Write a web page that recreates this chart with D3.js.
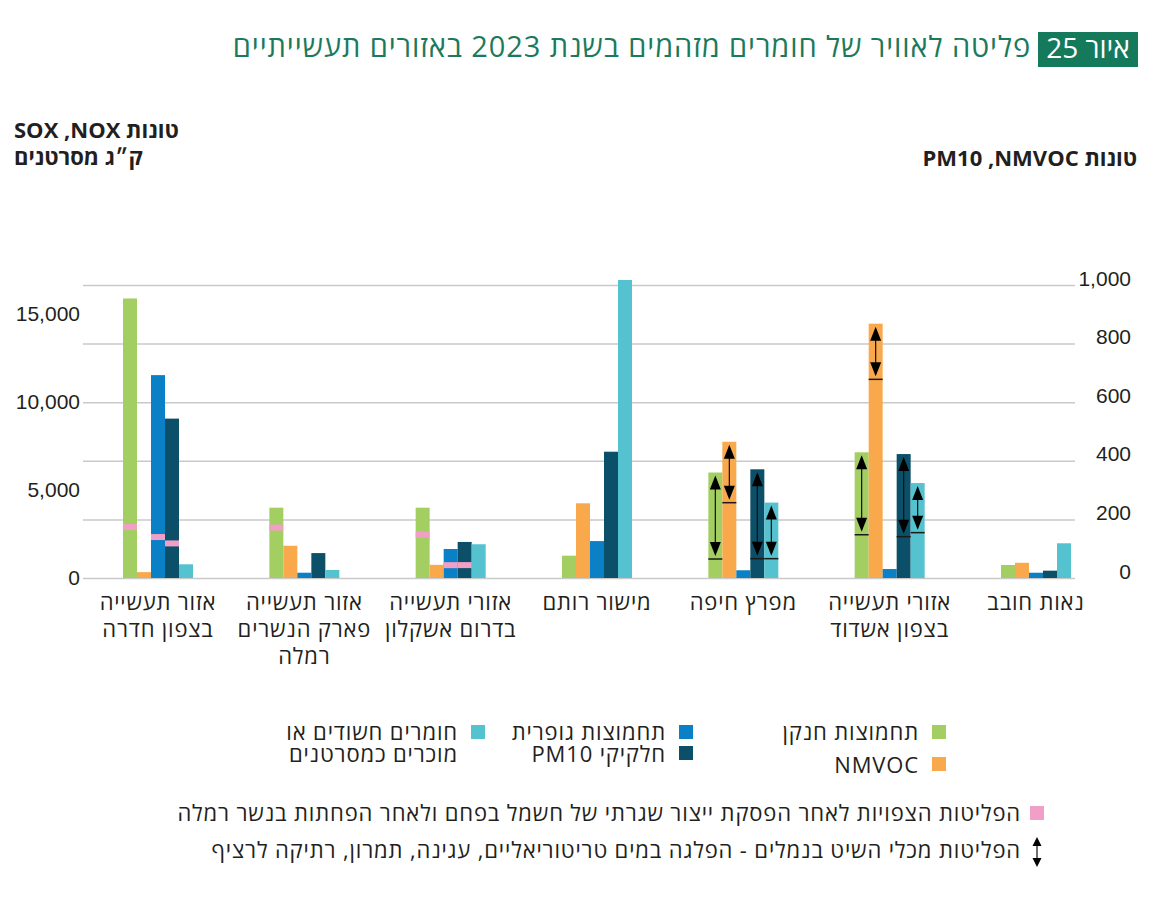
<!DOCTYPE html>
<html lang="he">
<head>
<meta charset="utf-8">
<script src="https://cdn.jsdelivr.net/npm/d3@7"></script>
<style>
body{margin:0;background:#fff;}
svg text{font-family:"Open Sans","Liberation Sans","DejaVu Sans",sans-serif;fill:#231f20;}
.rtl{direction:rtl;unicode-bidi:embed;}
</style>
</head>
<body>
<svg id="chart" width="1170" height="919"></svg>
<script>
// ---------- DATA ----------
const categories = [
  "אזור תעשייה בצפון חדרה",
  "אזור תעשייה פארק הנשרים רמלה",
  "אזורי תעשייה בדרום אשקלון",
  "מישור רותם",
  "מפרץ חיפה",
  "אזורי תעשייה בצפון אשדוד",
  "נאות חובב"
];
const categoryLines = [
  ["אזור תעשייה", "בצפון חדרה"],
  ["אזור תעשייה", "פארק הנשרים", "רמלה"],
  ["אזורי תעשייה", "בדרום אשקלון"],
  ["מישור רותם"],
  ["מפרץ חיפה"],
  ["אזורי תעשייה", "בצפון אשדוד"],
  ["נאות חובב"]
];
// tons (left axis)
const noxValues   = [15900, 4000, 4000, 1270, 6000, 7150, 740];
// tons (right axis)
const nmvocValues = [20, 110, 45, 255, 465, 868, 52];
// tons (left axis)
const soxValues   = [11540, 300, 1650, 2100, 440, 510, 300];
// tons (right axis)
const pm10Values  = [544, 85, 123, 431, 371, 423, 25];
// kg (left axis)
const carcValues  = [780, 455, 1920, 16950, 4290, 5400, 1975];

// expected emissions after stopping coal electricity / Nesher reductions (pink marks)
const noxExpected  = [2900, 2870, 2460, null, null, null, null];
const soxExpected  = [2330, null, 730, null, null, null, null];
const pm10Expected = [118, null, 44, null, null, null, null];

// lower bound, without ship emissions in ports (arrow ranges)
const noxShipLow   = [null, null, null, null, 1080, 2460, null];
const nmvocShipLow = [null, null, null, null, 257, 678, null];
const pm10ShipLow  = [null, null, null, null, 66, 141, null];
const carcShipLow  = [null, null, null, null, 1100, 2580, null];

const leftTicks  = [0, 5000, 10000, 15000];
const rightTicks = [0, 200, 400, 600, 800, 1000];

const seriesNames = ["תחמוצות חנקן", "NMVOC", "תחמוצות גופרית", "חלקיקי PM10", "חומרים חשודים או מוכרים כמסרטנים"];

// ---------- SETUP ----------
const svg = d3.select("#chart");
const colors = {nox:"#a3cf62", nmvoc:"#f9a94b", sox:"#0a80c7", pm10:"#0c4f69", carc:"#55c2cf"};
const pink = "#f19fc6";

const yR = d3.scaleLinear().domain([0, 1000]).range([578, 285]);
const yL = d3.scaleLinear().domain([0, 10000 / 0.6]).range([578, 285]);

const series = [
  {key:"nox",   values:noxValues,   scale:yL, expected:noxExpected,  low:noxShipLow},
  {key:"nmvoc", values:nmvocValues, scale:yR, expected:null,         low:nmvocShipLow},
  {key:"sox",   values:soxValues,   scale:yL, expected:soxExpected,  low:null},
  {key:"pm10",  values:pm10Values,  scale:yR, expected:pm10Expected, low:pm10ShipLow},
  {key:"carc",  values:carcValues,  scale:yL, expected:null,         low:carcShipLow}
];

const x = d3.scalePoint().domain(categories).range([158, 1036]);
const inner = d3.scaleBand().domain(series.map(s => s.key)).range([-35, 35]);
const bw = inner.bandwidth();

// ---------- TITLE ----------
svg.append("rect").attr("x", 1038).attr("y", 32).attr("width", 100).attr("height", 35).attr("fill", "#157a5c");
svg.append("text").attr("class", "rtl").attr("x", 1088).attr("y", 58).attr("text-anchor", "middle")
  .style("fill", "#fff").style("font-size", "28px").text("איור 25");
svg.append("text").attr("class", "rtl").attr("x", 1031).attr("y", 57).attr("text-anchor", "start")
  .style("fill", "#1c7a5c").style("font-size", "29px").style("letter-spacing", "0.9px")
  .text("פליטה לאוויר של חומרים מזהמים בשנת 2023 באזורים תעשייתיים");

// ---------- AXIS TITLES ----------
const leftTitle = svg.append("g");
leftTitle.append("text").attr("class", "rtl").attr("x", 14).attr("y", 138).attr("text-anchor", "end")
  .style("font-weight", "bold").style("font-size", "22px").text("טונות NOX,\u200F SOX");
leftTitle.append("text").attr("class", "rtl").attr("x", 14).attr("y", 165).attr("text-anchor", "end")
  .style("font-weight", "bold").style("font-size", "22px").text("ק״ג מסרטנים");
svg.append("text").attr("class", "rtl").attr("x", 1137).attr("y", 166).attr("text-anchor", "start")
  .style("font-weight", "bold").style("font-size", "22px").text("טונות NMVOC,\u200F PM10");

// ---------- GRID + AXES ----------
const grid = svg.append("g").attr("transform", "translate(83,0)")
  .call(d3.axisRight(yR).tickValues(rightTicks).tickSize(992).tickFormat(""));
grid.select(".domain").remove();
grid.selectAll(".tick line").attr("stroke", "#c9c9c9").attr("stroke-width", 1.5);

const axL = svg.append("g").attr("transform", "translate(80,0)")
  .call(d3.axisLeft(yL).tickValues(leftTicks).tickSize(0).tickPadding(0).tickFormat(d3.format(",")));
axL.select(".domain").remove();
axL.selectAll("text").style("font-size", "21px").style("font-family", "'Liberation Sans', sans-serif").attr("dy", "0.3em");

const axR = svg.append("g").attr("transform", "translate(1131,0)")
  .call(d3.axisLeft(yR).tickValues(rightTicks).tickSize(0).tickPadding(0).tickFormat(d3.format(",")));
axR.select(".domain").remove();
axR.selectAll("text").style("font-size", "21px").style("font-family", "'Liberation Sans', sans-serif").attr("dy", "0.0em");

// ---------- BARS ----------
const barsG = svg.append("g");
series.forEach(s => {
  barsG.selectAll(null).data(s.values).join("rect")
    .attr("x", (d, i) => x(categories[i]) + inner(s.key))
    .attr("y", d => s.scale(d))
    .attr("width", bw)
    .attr("height", d => s.scale(0) - s.scale(d))
    .attr("fill", colors[s.key]);
});

// pink expected marks
series.filter(s => s.expected).forEach(s => {
  const data = s.expected.map((v, i) => ({v, i})).filter(d => d.v != null);
  barsG.selectAll(null).data(data).join("rect")
    .attr("x", d => x(categories[d.i]) + inner(s.key))
    .attr("y", d => s.scale(d.v) - 3)
    .attr("width", bw)
    .attr("height", 6)
    .attr("fill", pink);
});

// ship-emission ranges (arrows)
function arrowHead(cx, tipY, dir) {
  const h = 14 * dir, w = 5.5;
  return `M${cx},${tipY}L${cx - w},${tipY + h}L${cx + w},${tipY + h}Z`;
}
series.filter(s => s.low).forEach(s => {
  const data = s.low.map((v, i) => ({v, i, top: s.values[i]})).filter(d => d.v != null);
  const g = barsG.selectAll(null).data(data).join("g");
  g.append("line")
    .attr("x1", d => x(categories[d.i]) + inner(s.key))
    .attr("x2", d => x(categories[d.i]) + inner(s.key) + bw)
    .attr("y1", d => s.scale(d.v)).attr("y2", d => s.scale(d.v))
    .attr("stroke", "#1a1a1a").attr("stroke-width", 1.5);
  g.append("line")
    .attr("x1", d => x(categories[d.i]) + inner(s.key) + bw / 2)
    .attr("x2", d => x(categories[d.i]) + inner(s.key) + bw / 2)
    .attr("y1", d => s.scale(d.top) + 6).attr("y2", d => s.scale(d.v) - 6)
    .attr("stroke", "#111").attr("stroke-width", 1.2);
  g.append("path").attr("d", d => arrowHead(x(categories[d.i]) + inner(s.key) + bw / 2, s.scale(d.top) + 3, 1)).attr("fill", "#000");
  g.append("path").attr("d", d => arrowHead(x(categories[d.i]) + inner(s.key) + bw / 2, s.scale(d.v) - 3, -1)).attr("fill", "#000");
});

// ---------- CATEGORY LABELS ----------
const catG = svg.append("g");
categories.forEach((c, i) => {
  const t = catG.append("text").attr("class", "rtl").attr("text-anchor", "middle")
    .style("font-size", "22px").style("letter-spacing", "0.8px");
  categoryLines[i].forEach((ln, j) => {
    t.append("tspan").attr("x", x(c)).attr("y", 610 + 27 * j).text(ln);
  });
});

// ---------- LEGEND ----------
const lg = svg.append("g");
const legendItems = [
  {key:"nox",   sx:932, sy:725, lines:[seriesNames[0]], ty:[740]},
  {key:"nmvoc", sx:932, sy:757, lines:[seriesNames[1]], ty:[773]},
  {key:"sox",   sx:679, sy:725, lines:[seriesNames[2]], ty:[740]},
  {key:"pm10",  sx:679, sy:746, lines:[seriesNames[3]], ty:[762]},
  {key:"carc",  sx:471, sy:725, lines:["חומרים חשודים או", "מוכרים כמסרטנים"], ty:[740, 762]}
];
const legFont = {size:"22px", ls:"0.85px"};
legendItems.forEach(it => {
  lg.append("rect").attr("x", it.sx).attr("y", it.sy).attr("width", 14).attr("height", 14).attr("fill", colors[it.key]);
  it.lines.forEach((ln, j) => {
    lg.append("text").attr("class", "rtl").attr("x", it.sx - 13).attr("y", it.ty[j]).attr("text-anchor", "start")
      .style("font-size", legFont.size).style("letter-spacing", legFont.ls).text(ln);
  });
});
lg.append("rect").attr("x", 1030).attr("y", 806).attr("width", 14).attr("height", 14).attr("fill", pink);
lg.append("text").attr("class", "rtl").attr("x", 1021).attr("y", 821).attr("text-anchor", "start")
  .style("font-size", legFont.size).style("letter-spacing", legFont.ls)
  .text("הפליטות הצפויות לאחר הפסקת ייצור שגרתי של חשמל בפחם ולאחר הפחתות בנשר רמלה");
lg.append("line").attr("x1", 1037).attr("x2", 1037).attr("y1", 842).attr("y2", 862).attr("stroke", "#111").attr("stroke-width", 1.2);
lg.append("path").attr("d", `M1037,837L1032.5,846L1041.5,846Z`).attr("fill", "#000");
lg.append("path").attr("d", `M1037,867L1032.5,858L1041.5,858Z`).attr("fill", "#000");
lg.append("text").attr("class", "rtl").attr("x", 1021).attr("y", 858).attr("text-anchor", "start")
  .style("font-size", legFont.size).style("letter-spacing", legFont.ls)
  .text("הפליטות מכלי השיט בנמלים - הפלגה במים טריטוריאליים, עגינה, תמרון, רתיקה לרציף");
</script>
</body>
</html>
